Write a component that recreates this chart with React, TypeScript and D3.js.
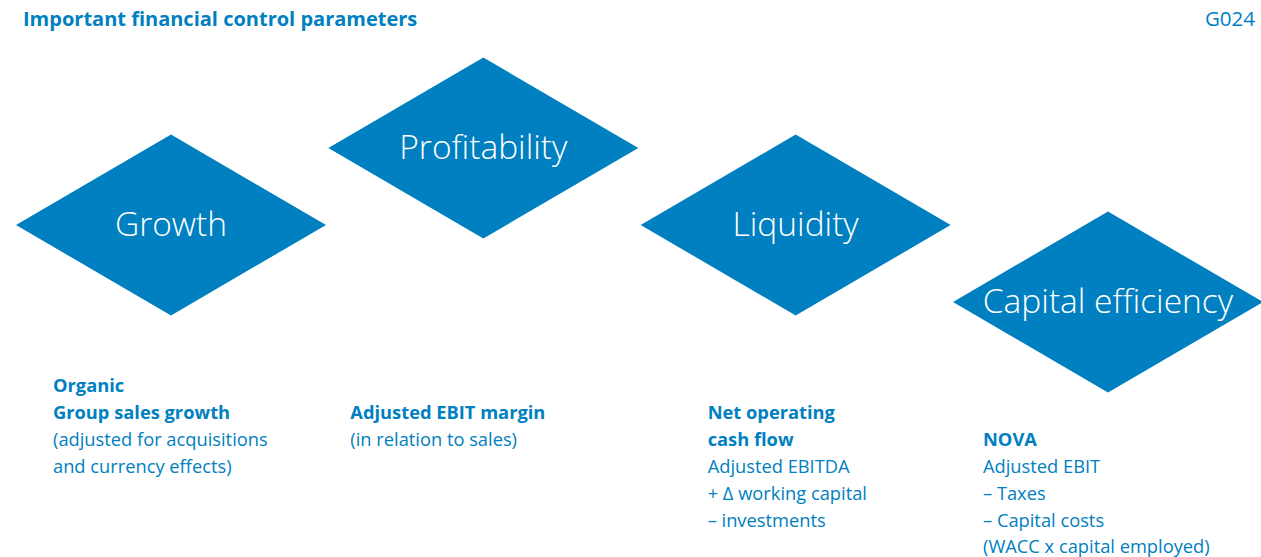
import React from "react";
import * as d3 from "d3";

const categories = ["Growth", "Profitability", "Liquidity", "Capital efficiency"];
const levels = [1, 0, 1, 2];
const descriptions: string[][] = [
  ["Organic", "Group sales growth", "(adjusted for acquisitions", "and currency effects)"],
  ["Adjusted EBIT margin", "(in relation to sales)"],
  ["Net operating", "cash flow", "Adjusted EBITDA", "+ Δ working capital", "– investments"],
  ["NOVA", "Adjusted EBIT", "– Taxes", "– Capital costs", "(WACC x capital employed)"],
];
const boldCounts = [2, 1, 2, 1];
const title = "Important financial control parameters";
const code = "G024";

// layout
const W = 1261, H = 557;
const BLUE = "#0080c0";
const textOffsetX = [-118, -133, -88, -125];
const textStartRow = [0, 1, 1, 2];
const FONT = "'Open Sans', Lato, sans-serif";

export default function App() {
  const x = d3.scalePoint<string>().domain(categories).range([171, 1108]);
  const y = d3.scaleLinear().domain([0, 2]).range([148, 302]);
  const halfW = 155, halfH = 90.5;
  const line = d3.line<[number, number]>();
  const rowY = (r: number) => 392 + r * 26.9;

  return (
    <svg width={W} height={H} style={{ position: "absolute", left: 0, top: 0, display: "block" }}>
      <rect width={W} height={H} fill="#fff" />
      <text x={23} y={26} fill={BLUE} fontFamily={FONT} fontWeight={700} fontSize={20}>{title}</text>
      <text x={1255} y={26} fill={BLUE} fontFamily={FONT} fontSize={20.5} textAnchor="end">{code}</text>
      {categories.map((c, i) => {
        const cx = x(c)!;
        const cy = y(levels[i]);
        const pts: [number, number][] = [
          [cx - halfW, cy], [cx, cy - halfH], [cx + halfW, cy], [cx, cy + halfH],
        ];
        return (
          <g key={c}>
            <path d={line(pts)! + "Z"} fill={BLUE} />
            <text x={cx} y={cy + 11} fill="#fff" fontFamily={FONT} fontWeight={300} fontSize={33.5} textAnchor="middle">{c}</text>
            {descriptions[i].map((t, j) => (
              <text key={j} x={cx + textOffsetX[i]} y={rowY(textStartRow[i] + j)} fill={BLUE}
                fontFamily={FONT} fontWeight={j < boldCounts[i] ? 700 : 400} fontSize={18.3}>{t}</text>
            ))}
          </g>
        );
      })}
    </svg>
  );
}
